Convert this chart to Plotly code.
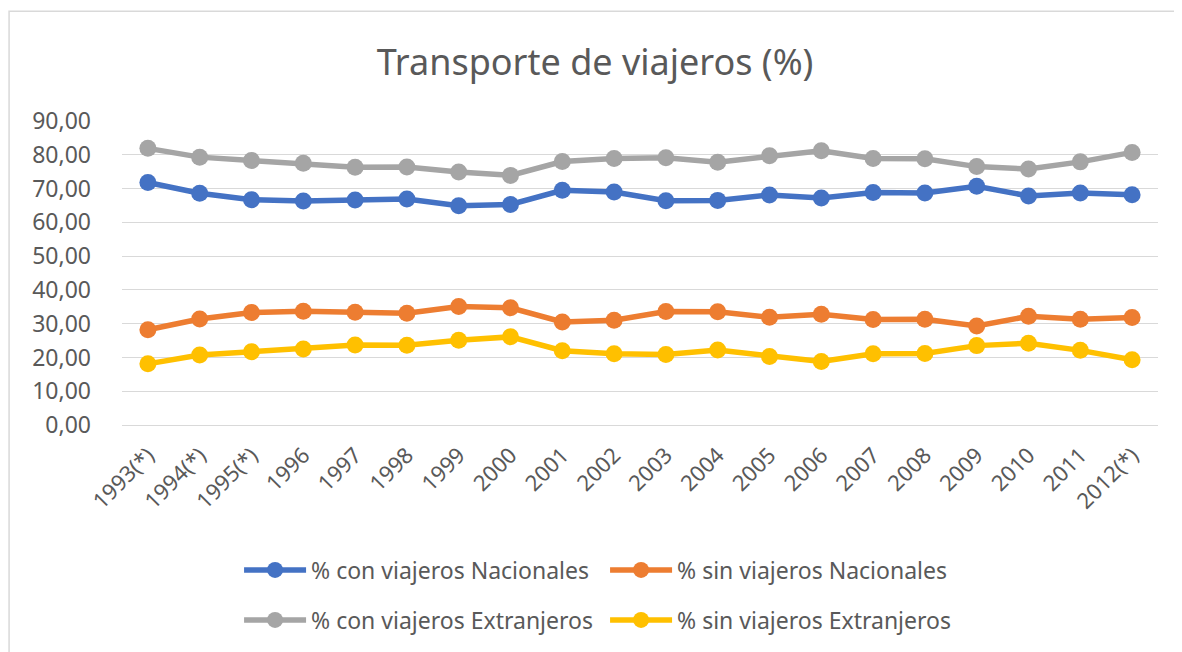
import plotly.graph_objects as go

years = ["1993(*)", "1994(*)", "1995(*)", "1996", "1997", "1998", "1999", "2000",
         "2001", "2002", "2003", "2004", "2005", "2006", "2007", "2008", "2009",
         "2010", "2011", "2012(*)"]

con_nacionales = [71.8, 68.6, 66.7, 66.3, 66.6, 66.9, 64.9, 65.3, 69.5, 69.0,
                  66.4, 66.5, 68.1, 67.2, 68.8, 68.7, 70.7, 67.8, 68.7, 68.2]
sin_nacionales = [28.2, 31.4, 33.3, 33.7, 33.4, 33.1, 35.1, 34.7, 30.5, 31.0,
                  33.6, 33.5, 31.9, 32.8, 31.2, 31.3, 29.3, 32.2, 31.3, 31.8]
con_extranjeros = [81.9, 79.3, 78.3, 77.5, 76.3, 76.4, 74.9, 73.9, 78.0, 78.9,
                   79.1, 77.8, 79.7, 81.2, 78.9, 78.8, 76.5, 75.8, 77.9, 80.7]
sin_extranjeros = [18.1, 20.7, 21.7, 22.5, 23.7, 23.6, 25.1, 26.1, 22.0, 21.1,
                   20.9, 22.2, 20.3, 18.8, 21.1, 21.2, 23.5, 24.2, 22.1, 19.3]

names = ["% con viajeros Nacionales", "% sin viajeros Nacionales",
         "% con viajeros Extranjeros", "% sin viajeros Extranjeros"]
colors = ["#4472C4", "#ED7D31", "#A5A5A5", "#FFC000"]
series = [con_nacionales, sin_nacionales, con_extranjeros, sin_extranjeros]
legends = ["legend", "legend", "legend2", "legend2"]

FONT = "Noto Sans"
TXT = "#595959"

fig = go.Figure()
for name, col, vals, lg in zip(names, colors, series, legends):
    fig.add_trace(go.Scatter(
        x=years, y=vals, name=name, mode="lines+markers",
        line=dict(color=col, width=5.5),
        marker=dict(color=col, size=17),
        legend=lg,
    ))

leg_common = dict(
    orientation="h", xanchor="left", yanchor="middle",
    font=dict(family=FONT, size=23, color=TXT),
    bgcolor="rgba(0,0,0,0)", itemwidth=62,
    entrywidth=289, entrywidthmode="pixels", tracegroupgap=0,
    itemclick=False,
)

fig.update_layout(
    width=1174, height=644,
    margin=dict(l=114, r=24, t=113, b=226),
    paper_bgcolor="white", plot_bgcolor="white",
    separators=",.",
    title=dict(text="Transporte de viajeros (%)", x=0.5, xanchor="center",
               y=1 - 54 / 644, yanchor="middle",
               font=dict(family=FONT, size=36, color=TXT)),
    xaxis=dict(type="category", showgrid=False, showline=False, ticks="",
               dtick=1, tickangle=-45, ticklabelstandoff=12,
               tickfont=dict(family=FONT, size=22, color=TXT),
               range=[-0.5, len(years) - 0.5]),
    yaxis=dict(range=[0, 90], dtick=10, tickformat=".2f",
               gridcolor="#D9D9D9", gridwidth=1, zeroline=True,
               zerolinecolor="#D9D9D9", zerolinewidth=1, showline=False,
               ticks="", ticklabelstandoff=30,
               tickfont=dict(family=FONT, size=23, color=TXT)),
    legend=dict(x=0.113, y=-0.472, **leg_common),
    legend2=dict(x=0.113, y=-0.636, **leg_common),
    showlegend=True,
)

fig.add_shape(type="rect", xref="paper", yref="paper",
              x0=-0.109, x1=1.1, y0=-1.0, y1=1.3607,
              line=dict(color="#D9D9D9", width=1.5), fillcolor="rgba(0,0,0,0)",
              layer="below")

fig.write_html("out.html")
